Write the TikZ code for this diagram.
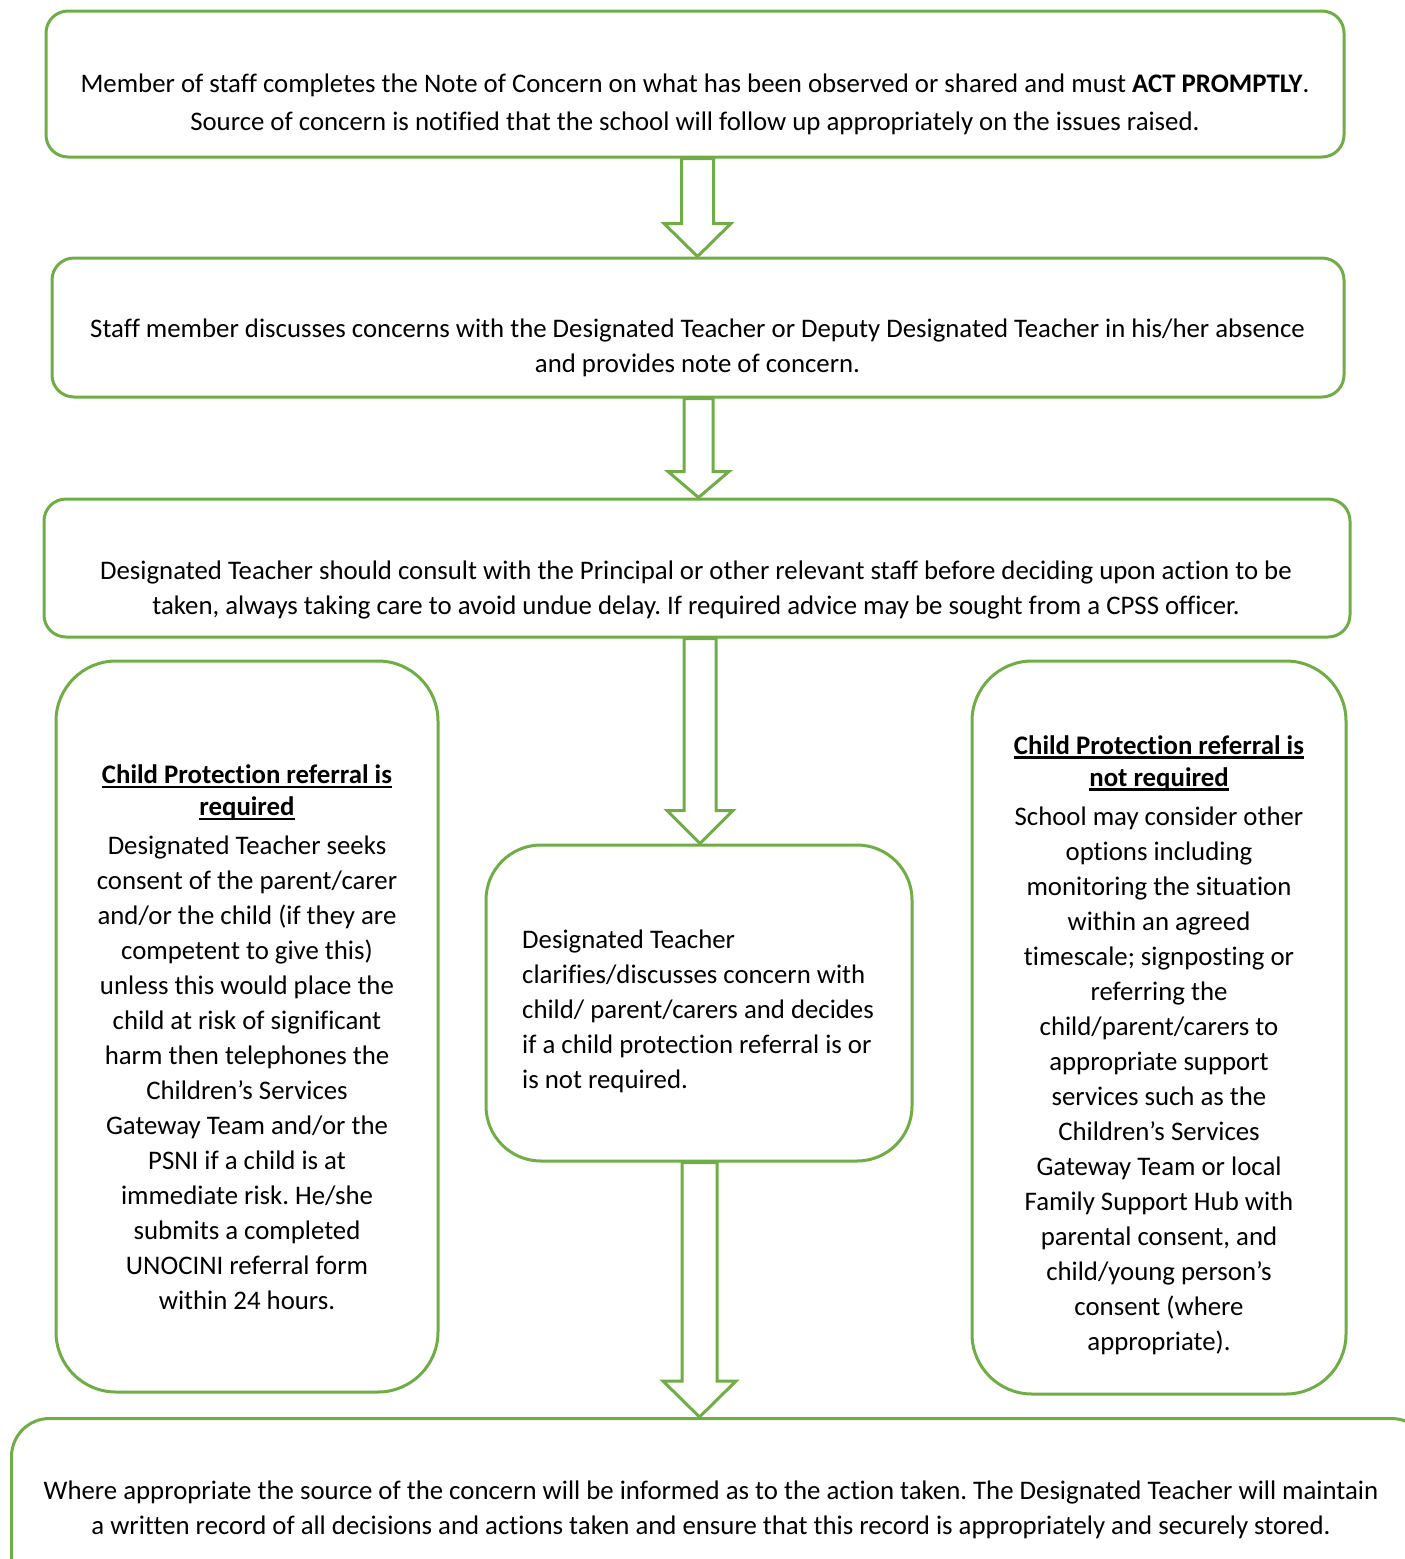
\documentclass[tikz,border=0pt]{standalone}
\usepackage{fontspec}
\setmainfont{Carlito}[Ligatures=CommonOff]
\usetikzlibrary{calc}
\frenchspacing
\definecolor{boxgreen}{RGB}{112,173,71}
\newcommand\hdul[1]{\leavevmode\setbox0\hbox{#1}\rlap{\rule[-4.6pt]{\wd0}{2.4pt}}\box0}
\newcommand\flowarrow[6]{% from, to, x, half shaft, half head, head length
  \draw[arrowline] let \p1=(#1.south), \p2=(#2.north) in
   (#3pt-#4pt,\y1) -- (#3pt-#4pt,\y2+#6pt) -- (#3pt-#5pt,\y2+#6pt) -- (#3pt,\y2)
   -- (#3pt+#5pt,\y2+#6pt) -- (#3pt+#4pt,\y2+#6pt) -- (#3pt+#4pt,\y1) -- cycle;
}
\tikzset{
  box/.style={draw=boxgreen, line width=3pt, fill=white, inner sep=0pt},
  txt/.style={inner sep=0pt, align=center, font=\fontsize{26.8}{35}\selectfont},
  arrowline/.style={draw=boxgreen, line width=3pt, fill=white, line join=miter},
}
\begin{document}
\begin{tikzpicture}[x=1pt,y=-1pt]
\useasboundingbox (0,0) rectangle (1405,1559);
\fill[white] (0,0) rectangle (1405,1559);
\begin{scope}
\clip (0,0) rectangle (1405,1559);
% boxes
\node[box, rounded corners=22pt, minimum width=1298pt, minimum height=146pt] (b1) at (695,84) {};
\node[box, rounded corners=22pt, minimum width=1292pt, minimum height=139pt] (b2) at (698,327.5) {};
\node[box, rounded corners=22pt, minimum width=1306pt, minimum height=138pt] (b3) at (697,568) {};
\node[box, rounded corners=60pt, minimum width=382pt, minimum height=731pt] (bl) at (247,1026.5) {};
\node[box, rounded corners=55pt, minimum width=426pt, minimum height=316pt] (bm) at (699,1003) {};
\node[box, rounded corners=60pt, minimum width=374pt, minimum height=733pt] (br) at (1159,1027.5) {};
\node[box, rounded corners=38pt, minimum width=1418pt, minimum height=240pt, anchor=north west] (bb) at (10,1417) {};
% arrows
\flowarrow{b1}{b2}{697.5}{16}{33.5}{33}
\flowarrow{b2}{b3}{698.5}{14.5}{30.5}{26}
\flowarrow{b3}{bm}{700}{16}{33}{33}
\flowarrow{bm}{bb}{699.5}{17.5}{36.5}{36}
% texts
\node[txt, font=\fontsize{26.8}{38}\selectfont] (t1) at (695,104) {Member of staff completes the Note of Concern on what has been observed or shared and must \textbf{ACT PROMPTLY}.\\Source of concern is notified that the school will follow up appropriately on the issues raised.};
\node[txt] (t2) at (697.5,347.5) {Staff member discusses concerns with the Designated Teacher or Deputy Designated Teacher in his/her absence\\and provides note of concern.};
\node[txt] (t3) at (696,590) {Designated Teacher should consult with the Principal or other relevant staff before deciding upon action to be\\taken, always taking care to avoid undue delay. If required advice may be sought from a CPSS officer.};
\node[txt] (tl) at (247,1037) {\hdul{\textbf{Child Protection referral is}}\\[-3pt]\hdul{\textbf{required}}\\[4pt]Designated Teacher seeks\\consent of the parent/carer\\and/or the child (if they are\\competent to give this)\\unless this would place the\\child at risk of significant\\harm then telephones the\\Children’s Services\\Gateway Team and/or the\\PSNI if a child is at\\immediate risk. He/she\\submits a completed\\UNOCINI referral form\\within 24 hours.};
\node[txt, align=left, anchor=west] (tm) at (522,1011.5) {Designated Teacher\\clarifies/discusses concern with\\child/ parent/carers and decides\\if a child protection referral is or\\is not required.};
\node[txt] (tr) at (1159,1045) {\hdul{\textbf{Child Protection referral is}}\\[-3pt]\hdul{\textbf{not required}}\\[4pt]School may consider other\\options including\\monitoring the situation\\within an agreed\\timescale; signposting or\\referring the\\child/parent/carers to\\appropriate support\\services such as the\\Children’s Services\\Gateway Team or local\\Family Support Hub with\\parental consent, and\\child/young person’s\\consent (where\\appropriate).};
\node[txt] (tb) at (711,1509.5) {Where appropriate the source of the concern will be informed as to the action taken. The Designated Teacher will maintain\\a written record of all decisions and actions taken and ensure that this record is appropriately and securely stored.};
\end{scope}
\end{tikzpicture}
\end{document}
